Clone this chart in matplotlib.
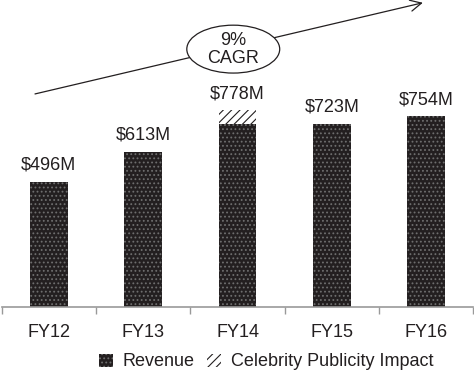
import matplotlib.pyplot as plt
from matplotlib.patches import Ellipse

# Revenue by fiscal year ($M)
years = ['FY12', 'FY13', 'FY14', 'FY15', 'FY16']
revenue = [496, 613, 723, 723, 754]
publicity = [0, 0, 55, 0, 0]
labels = ['$496M', '$613M', '$778M', '$723M', '$754M']

plt.rcParams['font.family'] = ['Liberation Sans', 'DejaVu Sans']
plt.rcParams['hatch.linewidth'] = 0.8

fig = plt.figure(figsize=(4.74, 3.71), dpi=100)
ax = fig.add_axes([1.7 / 474, 64 / 371, 471.6 / 474, 307 / 371])

x = range(len(years))
ax.bar(x, revenue, width=0.4, color='#231f20', edgecolor='#6e6e6e',
       linewidth=0, hatch='....', label='Revenue')
ax.bar(x, publicity, width=0.4, bottom=revenue, color='white',
       edgecolor='#231f20', linewidth=0, hatch='////',
       label='Celebrity Publicity Impact')

for i in x:
    ax.annotate(labels[i], (i, revenue[i] + publicity[i]), xytext=(0, 6),
                textcoords='offset points', ha='center', va='bottom',
                fontsize=13, color='#231f20')

ax.set_xlim(-0.5, 4.5)
ax.set_ylim(0, 1215)
ax.set_xticks(list(x))
ax.set_xticklabels(years, fontsize=13, color='#231f20')
ax.set_xticks([i - 0.5 for i in range(len(years) + 1)], minor=True)
ax.tick_params(axis='x', which='major', length=0, pad=12)
ax.tick_params(axis='x', which='minor', length=5, color='#999999', width=1)
ax.set_yticks([])
for side in ['top', 'right', 'left']:
    ax.spines[side].set_visible(False)
ax.spines['bottom'].set_color('#999999')
ax.spines['bottom'].set_linewidth(1.2)

# growth arrow with CAGR bubble
ax.annotate('', xy=(0.893, 0.991), xytext=(0.0706, 0.694),
            xycoords='axes fraction', textcoords='axes fraction',
            arrowprops=dict(arrowstyle='->', color='#231f20', lw=0.9,
                            mutation_scale=20, shrinkA=0, shrinkB=0),
            annotation_clip=False)
ax.add_patch(Ellipse((0.491, 0.84), 0.197, 0.156, transform=ax.transAxes,
                     facecolor='white', edgecolor='#231f20', lw=0.9,
                     zorder=5, clip_on=False))
ax.text(0.491, 0.838, '9%\nCAGR', transform=ax.transAxes, ha='center',
        va='center', fontsize=13, color='#231f20', zorder=6,
        linespacing=1.1)

fig.legend(loc='center', bbox_to_anchor=(266 / 474, 9 / 371), ncol=2,
           frameon=False, fontsize=13, handlelength=0.75, handleheight=0.75,
           handletextpad=0.55, columnspacing=0.7, borderaxespad=0,
           labelcolor='#231f20')

fig.savefig('out.png', dpi=100)
